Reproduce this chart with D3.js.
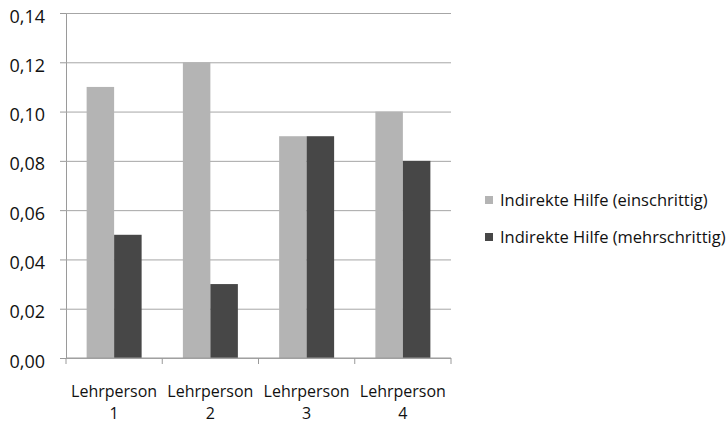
<!DOCTYPE html>
<html>
<head>
<meta charset="utf-8">
<script src="https://cdn.jsdelivr.net/npm/d3@7"></script>
<style>
  body { margin: 0; background: #fff; }
  text { font-family: "Open Sans", "DejaVu Sans", sans-serif; fill: #111; font-weight: 500; }
</style>
</head>
<body>
<svg id="chart" width="727" height="423"></svg>
<script>
// Anteil indirekter Hilfen je Lehrperson
const categories = [["Lehrperson", "1"], ["Lehrperson", "2"], ["Lehrperson", "3"], ["Lehrperson", "4"]];
const seriesNames = ["Indirekte Hilfe (einschrittig)", "Indirekte Hilfe (mehrschrittig)"];
const einschrittig = [0.11, 0.12, 0.09, 0.10];
const mehrschrittig = [0.05, 0.03, 0.09, 0.08];
const yTicks = [0, 0.02, 0.04, 0.06, 0.08, 0.10, 0.12, 0.14];
const colors = ["#b4b4b4", "#474747"];

const svg = d3.select("#chart");
const plot = { left: 66, right: 451, top: 13, bottom: 358 };

const x = d3.scaleBand().domain(d3.range(categories.length)).range([plot.left, plot.right]);
const xInner = d3.scaleBand().domain([0, 1]).range([0, x.bandwidth()]).paddingOuter(0.75).paddingInner(0);
const y = d3.scaleLinear().domain([0, 0.14]).range([plot.bottom, plot.top]);
const fmt = d3.format(".2f");

// Horizontal gridlines with outward tick stubs
svg.append("g")
  .attr("transform", `translate(${plot.left},0)`)
  .call(d3.axisLeft(y).tickValues(yTicks).tickSize(6).tickFormat(d => fmt(d).replace(".", ",")))
  .call(g => {
    g.select(".domain").attr("stroke", "#9a9a9a");
    g.selectAll(".tick line").attr("stroke", "#9a9a9a");
    g.selectAll(".tick").append("line")
      .attr("x2", plot.right - plot.left).attr("stroke", "#a6a6a6");
    g.selectAll(".tick text").attr("x", -21).attr("dy", "0.5em")
      .attr("font-size", 18).attr("fill", "#111");
  });

// Bars
const data = [einschrittig, mehrschrittig];
data.forEach((vals, s) => {
  svg.append("g").selectAll("rect").data(vals).join("rect")
    .attr("x", (d, i) => x(i) + xInner(s))
    .attr("width", xInner.bandwidth())
    .attr("y", d => y(d))
    .attr("height", d => y(0) - y(d))
    .attr("fill", colors[s]);
});

// Category axis
svg.append("line")
  .attr("x1", plot.left).attr("x2", plot.right)
  .attr("y1", plot.bottom).attr("y2", plot.bottom)
  .attr("stroke", "#9a9a9a");
const edges = d3.range(categories.length + 1).map(i => plot.left + i * x.step());
svg.append("g").selectAll("line").data(edges).join("line")
  .attr("x1", d => d).attr("x2", d => d)
  .attr("y1", plot.bottom).attr("y2", plot.bottom + 6)
  .attr("stroke", "#9a9a9a");

const labels = svg.append("g").selectAll("text").data(categories).join("text")
  .attr("text-anchor", "middle")
  .attr("font-size", 16)
  .attr("x", (d, i) => x(i) + x.bandwidth() / 2)
  .attr("y", 397);
labels.append("tspan").attr("x", (d, i) => x(i) + x.bandwidth() / 2).text(d => d[0]);
labels.append("tspan").attr("x", (d, i) => x(i) + x.bandwidth() / 2).attr("dy", 22).text(d => d[1]);

// Legend
const legend = svg.append("g").selectAll("g").data(seriesNames).join("g")
  .attr("transform", (d, i) => `translate(485,${196 + i * 37})`);
legend.append("rect").attr("width", 8).attr("height", 8).attr("fill", (d, i) => colors[i]);
legend.append("text").attr("x", 15).attr("y", 10).attr("font-size", 16.5).text(d => d);
</script>
</body>
</html>
